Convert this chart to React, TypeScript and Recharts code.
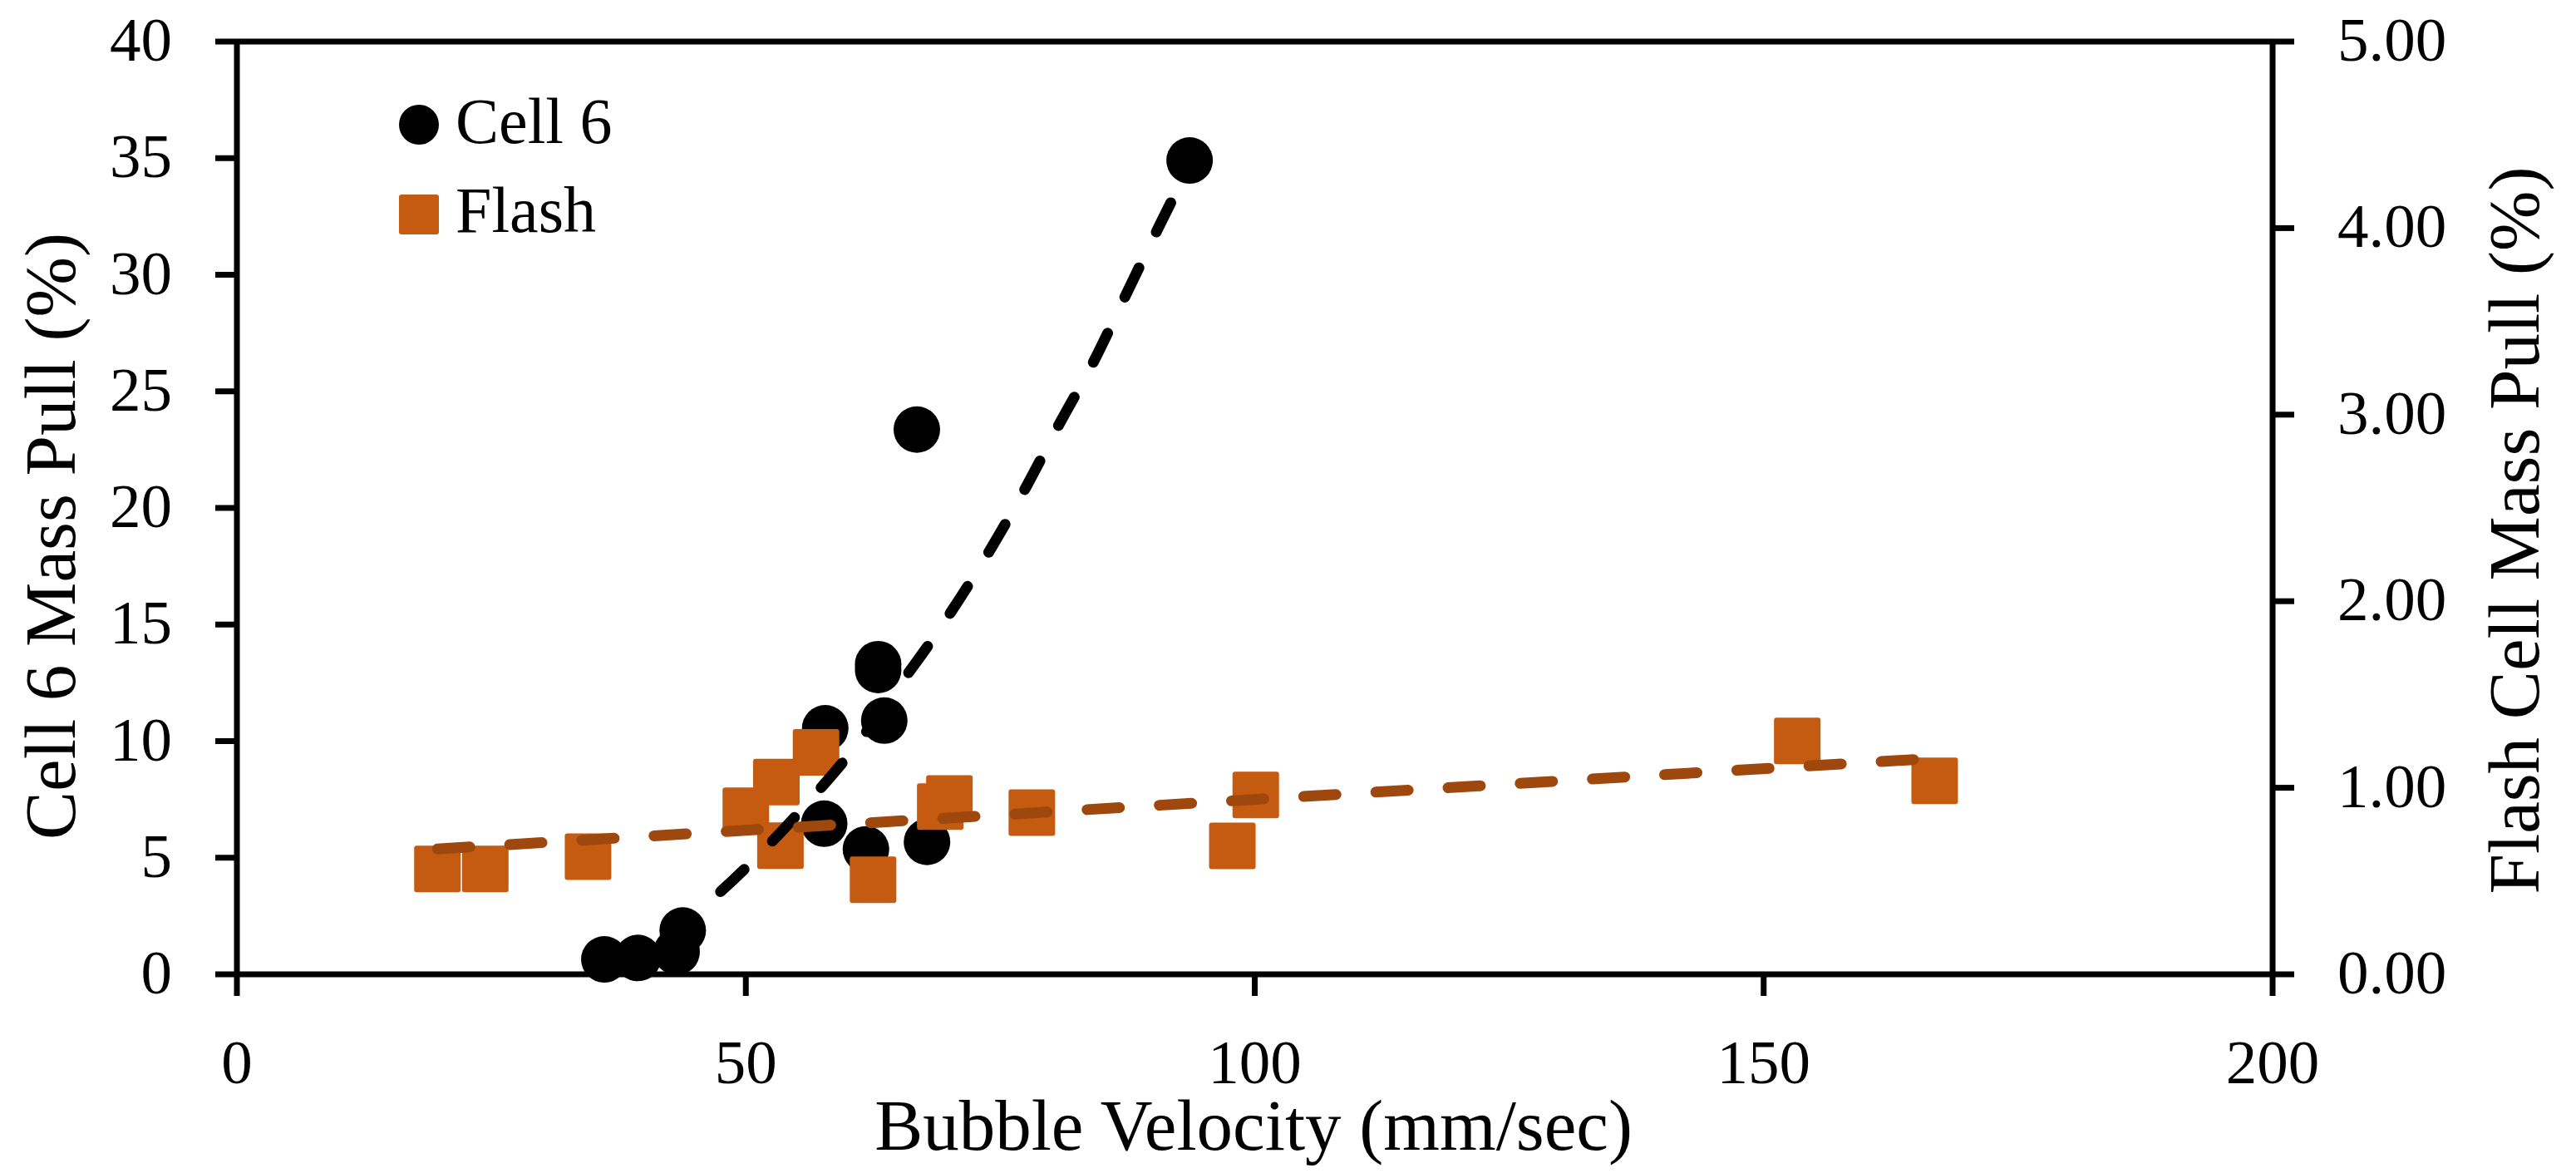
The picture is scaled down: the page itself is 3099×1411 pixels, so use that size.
import React from "react";
import {
  ScatterChart,
  Scatter,
  XAxis,
  YAxis,
  ReferenceLine,
  Legend,
} from "recharts";

// Cell 6 mass pull (%) vs bubble velocity (mm/sec), left axis
const cellX = [36.1, 39.4, 43.2, 43.8, 57.7, 57.8, 61.8, 63.0, 63.0, 63.6, 66.8, 67.8, 93.6];
const cellY = [0.64, 0.7, 0.96, 1.88, 6.46, 10.55, 5.36, 13.3, 13.05, 10.88, 23.36, 5.68, 34.9];

// Flash cell mass pull (%), right axis
const flashX = [19.7, 24.4, 34.5, 50.0, 53.0, 53.4, 56.9, 62.5, 69.1, 70.0, 78.1, 97.8, 100.1, 153.3, 166.8];
const flashY = [0.565, 0.565, 0.631, 0.877, 1.03, 0.69, 1.19, 0.507, 0.899, 0.943, 0.867, 0.688, 0.961, 1.251, 1.037];

// trendlines
const cellTrendX = [44.5, 47.5, 52.6, 57.4, 59.5, 66.0, 67.9, 77.5, 80.8, 84.2, 87.3, 90.4, 93.6];
const cellTrendY = [2.4, 3.54, 5.71, 8.01, 9.08, 12.94, 14.09, 20.87, 23.6, 26.3, 29.1, 31.9, 34.7];
const flashTrendX = [19.7, 166.8];
const flashTrendY = [0.672, 1.158];

const legendNames = ["Cell 6", "Flash"];
const xTicks = [0, 50, 100, 150, 200];
const leftTicks = [0, 5, 10, 15, 20, 25, 30, 35, 40];
const rightTicks = [0, 1, 2, 3, 4, 5];

const zip = (xs: number[], ys: number[]) => xs.map((x, i) => ({ x, y: ys[i] }));

const cellData = zip(cellX, cellY);
const flashData = zip(flashX, flashY);
const cellTrend = zip(cellTrendX, cellTrendY);
const flashTrend = zip(flashTrendX, flashTrendY);

const FONT = "'Liberation Serif', 'Times New Roman', serif";
const BLACK = "#000000";
const ORANGE = "#C55A11";
const BROWN = "#9E480E";
const axisStyle = { stroke: BLACK, strokeWidth: 7 };

const XTick = ({ x, y, payload }: any) => (
  <text x={x} y={y + 105} textAnchor="middle" fontFamily={FONT} fontSize={75} fill={BLACK}>
    {payload.value}
  </text>
);

const LeftTick = ({ x, y, payload }: any) => (
  <text x={x - 52} y={y + 23} textAnchor="end" fontFamily={FONT} fontSize={75} fill={BLACK}>
    {payload.value}
  </text>
);

const RightTick = ({ x, y, payload }: any) => (
  <text x={x + 52} y={y + 23} textAnchor="start" fontFamily={FONT} fontSize={75} fill={BLACK}>
    {Number(payload.value).toFixed(2)}
  </text>
);

const Dot = ({ cx, cy }: any) => <circle cx={cx} cy={cy} r={28} fill={BLACK} />;
const Square = ({ cx, cy }: any) => (
  <rect x={cx - 28} y={cy - 28} width={56} height={56} rx={3} fill={ORANGE} />
);
const NoShape = () => <g />;

const LegendBox = ({ payload }: any) => {
  const items = (payload || []).filter((e: any) => legendNames.includes(e.value));
  return (
    <svg width={400} height={220} style={{ display: "block" }}>
      {items.map((entry: any) => {
        const first = entry.value === legendNames[0];
        return (
          <g key={entry.value}>
            {first ? (
              <circle cx={54} cy={60} r={24} fill={BLACK} />
            ) : (
              <rect x={30} y={144} width={48} height={48} rx={3} fill={ORANGE} />
            )}
            <text x={98} y={first ? 82 : 189} fontFamily={FONT} fontSize={78} fill={BLACK}>
              {entry.value}
            </text>
          </g>
        );
      })}
    </svg>
  );
};

export default function App() {
  return (
    <div style={{ position: "absolute", left: 0, top: 0, background: "#fff" }}>
      <ScatterChart width={3099} height={1411} margin={{ top: 50, right: 0, bottom: 0, left: 0 }}>
        <XAxis
          type="number"
          dataKey="x"
          domain={[0, 200]}
          ticks={xTicks}
          height={239}
          axisLine={axisStyle}
          tickLine={axisStyle}
          tickSize={26}
          tickMargin={0}
          tick={<XTick />}
          label={() => (
            <text x={1508} y={1383} textAnchor="middle" fontFamily={FONT} fontSize={87} fill={BLACK}>
              Bubble Velocity (mm/sec)
            </text>
          )}
        />
        <YAxis
          yAxisId="left"
          type="number"
          dataKey="y"
          domain={[0, 40]}
          ticks={leftTicks}
          width={285}
          axisLine={axisStyle}
          tickLine={axisStyle}
          tickSize={26}
          tickMargin={0}
          tick={<LeftTick />}
          label={() => (
            <text
              x={90}
              y={645}
              transform="rotate(-90 90 645)"
              textAnchor="middle"
              fontFamily={FONT}
              fontSize={87}
              fill={BLACK}
            >
              Cell 6 Mass Pull (%)
            </text>
          )}
        />
        <YAxis
          yAxisId="right"
          orientation="right"
          type="number"
          dataKey="y"
          domain={[0, 5]}
          ticks={rightTicks}
          width={365}
          axisLine={axisStyle}
          tickLine={axisStyle}
          tickSize={26}
          tickMargin={0}
          tick={<RightTick />}
          label={() => (
            <text
              x={3054}
              y={638}
              transform="rotate(-90 3054 638)"
              textAnchor="middle"
              fontFamily={FONT}
              fontSize={87}
              fill={BLACK}
            >
              Flash Cell Mass Pull (%)
            </text>
          )}
        />
        <ReferenceLine y={40} yAxisId="left" stroke={BLACK} strokeWidth={7} />
        <Legend
          layout="horizontal"
          verticalAlign="middle"
          align="center"
          wrapperStyle={{ position: "absolute", left: 450, top: 90, width: 400, height: 220 }}
          content={<LegendBox />}
        />
        <Scatter
          name="Cell 6"
          yAxisId="left"
          data={cellData}
          fill={BLACK}
          shape={<Dot />}
          isAnimationActive={false}
        />
        <Scatter
          name="Flash"
          yAxisId="right"
          data={flashData}
          fill={ORANGE}
          shape={<Square />}
          isAnimationActive={false}
        />
        <Scatter
          name="Cell 6 trend"
          yAxisId="left"
          data={cellTrend}
          fill={BLACK}
          legendType="none"
          shape={<NoShape />}
          line={{
            stroke: BLACK,
            strokeWidth: 13,
            strokeDasharray: "39 48",
            strokeDashoffset: 38,
            strokeLinecap: "round",
          }}
          lineJointType="monotoneX"
          isAnimationActive={false}
        />
        <Scatter
          name="Flash trend"
          yAxisId="right"
          data={flashTrend}
          fill={BROWN}
          legendType="none"
          shape={<NoShape />}
          line={{
            stroke: BROWN,
            strokeWidth: 13,
            strokeDasharray: "39 48",
            strokeLinecap: "round",
          }}
          isAnimationActive={false}
        />
      </ScatterChart>
    </div>
  );
}
